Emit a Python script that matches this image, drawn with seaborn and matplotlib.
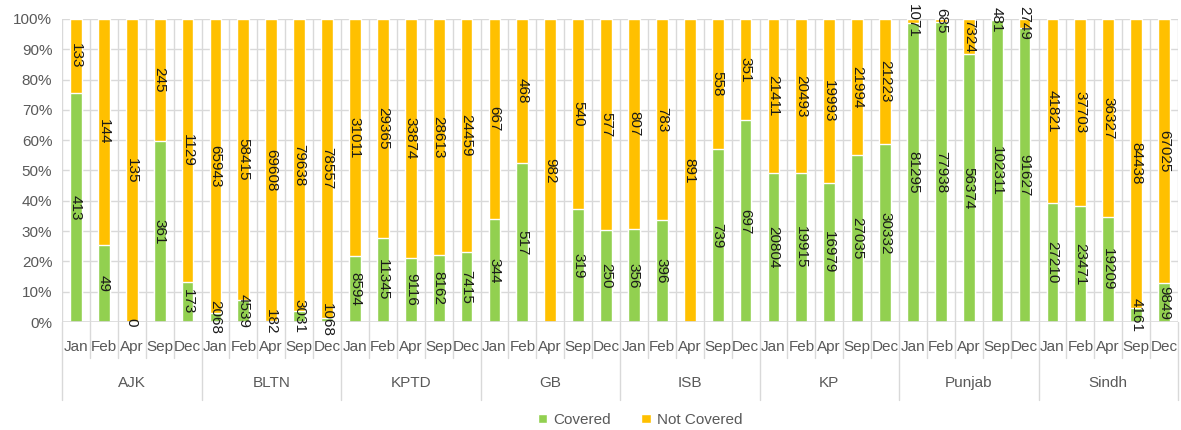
import numpy as np
import pandas as pd
import seaborn as sns
import matplotlib.pyplot as plt
import matplotlib.transforms as mtransforms
from matplotlib.patches import Patch

regions = ["AJK", "BLTN", "KPTD", "GB", "ISB", "KP", "Punjab", "Sindh"]
months = ["Jan", "Feb", "Apr", "Sep", "Dec"]

covered = {
    "AJK":    [413, 49, 0, 361, 173],
    "BLTN":   [2068, 4539, 182, 3031, 1068],
    "KPTD":   [8594, 11345, 9116, 8162, 7415],
    "GB":     [344, 517, np.nan, 319, 250],
    "ISB":    [356, 396, np.nan, 739, 697],
    "KP":     [20804, 19915, 16979, 27035, 30332],
    "Punjab": [81295, 77938, 56374, 102311, 91627],
    "Sindh":  [27210, 23471, 19209, 4161, 9849],
}
not_covered = {
    "AJK":    [133, 144, 135, 245, 1129],
    "BLTN":   [65943, 58415, 69608, 79638, 78557],
    "KPTD":   [31011, 29365, 33874, 28613, 24459],
    "GB":     [667, 468, 982, 540, 577],
    "ISB":    [807, 783, 891, 558, 351],
    "KP":     [21411, 20493, 19993, 21994, 21223],
    "Punjab": [1071, 685, 7324, 481, 2749],
    "Sindh":  [41821, 37703, 36327, 84438, 67025],
}

rows = []
for r in regions:
    for m, c, n in zip(months, covered[r], not_covered[r]):
        rows.append({"region": r, "month": m, "slot": f"{r}-{m}",
                     "covered": c, "not_covered": n})
df = pd.DataFrame(rows)
df["total"] = df["covered"].fillna(0) + df["not_covered"]
df["cov_pct"] = df["covered"].fillna(0) / df["total"] * 100
df["all_pct"] = 100.0

GREEN = "#92D050"
ORANGE = "#FFC000"
GRID = "#D9D9D9"
TXT = "#595959"

sns.set_style("white")
plt.rcParams["font.family"] = ["Liberation Sans Narrow", "Liberation Sans", "DejaVu Sans"]

fig = plt.figure(figsize=(11.81, 4.30), dpi=100)
ax = fig.add_axes([62 / 1181, 1 - 322 / 430, (1178 - 62) / 1181, (322 - 19) / 430])

order = df["slot"].tolist()
sns.barplot(data=df, x="slot", y="all_pct", order=order, color=ORANGE,
            width=0.42, errorbar=None, ax=ax, zorder=2, saturation=1)
sns.barplot(data=df, x="slot", y="cov_pct", order=order, color=GREEN,
            width=0.42, errorbar=None, ax=ax, zorder=3, saturation=1)

# data labels, centred in each segment
for i, row in df.iterrows():
    if not np.isnan(row["covered"]):
        ax.text(i, row["cov_pct"] / 2, f"{int(row['covered'])}", rotation=270,
                ha="center", va="center", fontsize=11, color="#1a1a1a", zorder=5)
    ax.text(i, row["cov_pct"] + (100 - row["cov_pct"]) / 2, f"{int(row['not_covered'])}",
            rotation=270, ha="center", va="center", fontsize=11, color="#1a1a1a",
            zorder=5, clip_on=False)

n = len(df)
ax.set_xlim(-0.5, n - 0.5)
ax.set_ylim(0, 100)
ax.set_yticks(np.arange(0, 101, 10))
ax.set_yticklabels([f"{v}%" for v in range(0, 101, 10)], color=TXT, fontsize=11)
ax.tick_params(axis="y", length=5, color=GRID, width=1, pad=2)
ax.set_xticks([])
ax.set_xlabel("")
ax.set_ylabel("")
for s in ax.spines.values():
    s.set_visible(False)

for v in range(10, 101, 10):
    ax.axhline(v, color=GRID, lw=1, zorder=1)
for b in np.arange(-0.5, n, 1):
    ax.axvline(b, color=GRID, lw=1, zorder=1)
ax.axhline(0, color=GRID, lw=1.2, zorder=4)

# two level category axis
trans = mtransforms.blended_transform_factory(ax.transData, ax.transAxes)
for b in np.arange(-0.5, n, 1):
    bottom = -0.257 if (b + 0.5) % 5 == 0 else -0.119
    ax.plot([b, b], [0, bottom], color=GRID, lw=1, transform=trans, clip_on=False)
for i, row in df.iterrows():
    ax.text(i, -0.083, row["month"], transform=trans, ha="center", va="center",
            fontsize=11, color=TXT)
for k, r in enumerate(regions):
    ax.text(k * 5 + 2, -0.201, r, transform=trans, ha="center", va="center",
            fontsize=11, color=TXT)

handles = [Patch(facecolor=GREEN, label="Covered"),
           Patch(facecolor=ORANGE, label="Not Covered")]
fig.legend(handles=handles, loc="center", bbox_to_anchor=(640 / 1181, 1 - 420 / 430),
           ncol=2, frameon=False, fontsize=11, handlelength=0.6, handleheight=0.6,
           handletextpad=0.4, columnspacing=2.0, labelcolor=TXT)

plt.savefig("out.png", dpi=100)
